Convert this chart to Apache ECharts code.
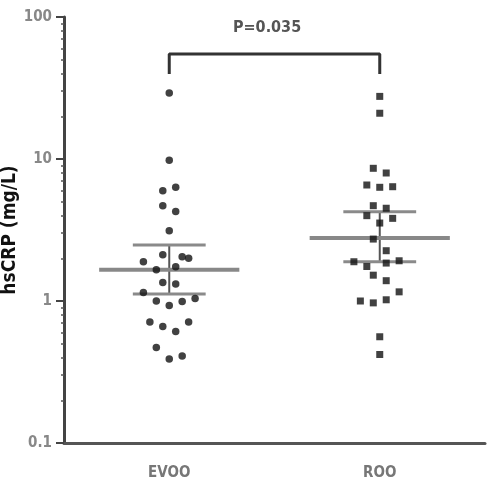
<!DOCTYPE html>
<html>
<head>
<meta charset="utf-8">
<script src="https://cdn.jsdelivr.net/npm/echarts@6/dist/echarts.min.js"></script>
<style>html,body{margin:0;padding:0;background:#fff}#c{width:500px;height:500px}</style>
</head>
<body>
<div id="c"></div>
<script>
// ---- data ----
const categories = ['EVOO', 'ROO'];
const evooValues = [29.2, 9.8, 5.98, 6.32, 4.69, 4.26, 3.13, 2.12, 1.89, 2.05, 2.0, 1.74, 1.66, 1.35, 1.32, 1.15, 1.0, 0.93, 0.99, 1.04, 0.71, 0.66, 0.61, 0.71, 0.47, 0.39, 0.41];
const evooSlots  = [0, 0, -1, 1, -1, 1, 0, -1, -4, 2, 3, 1, -2, -1, 1, -4, -2, 0, 2, 4, -3, -1, 1, 3, -2, 0, 2];
const rooValues  = [27.6, 21.0, 8.6, 7.97, 6.56, 6.32, 6.38, 4.69, 4.50, 3.99, 3.82, 3.54, 2.73, 2.26, 1.89, 1.75, 1.85, 1.92, 1.52, 1.39, 1.16, 1.0, 0.97, 1.02, 0.56, 0.42];
const rooSlots   = [0, 0, -1, 1, -2, 0, 2, -1, 1, -2, 2, 0, -1, 1, -4, -2, 1, 3, -1, 1, 3, -3, -1, 1, 0, 0];
const medians    = [1.66, 2.78];
const q1Values   = [1.12, 1.89];
const q3Values   = [2.48, 4.25];
const yTickLabels = ['0.1', '1', '10', '100'];
const minorTickValues = [0.2,0.3,0.4,0.5,0.6,0.7,0.8,0.9, 2,3,4,5,6,7,8,9, 20,30,40,50,60,70,80,90];
const bracketTop = 54.8;
const bracketFoot = 39.7;
const pText = 'P=0.035';

// ---- build ----
const SLOT = 0.0307;
const FONT = "'Liberation Sans Narrow', 'DejaVu Sans Condensed', 'Arial Narrow', sans-serif";
function pts(vals, slots, g) {
  return vals.map((v, i) => [g + 0.5 + slots[i] * SLOT, v]);
}
const stats = categories.map((c, i) => [i, q1Values[i], medians[i], q3Values[i]]);

const chart = echarts.init(document.getElementById('c'), null, {renderer: 'canvas'});
chart.setOption({
  animation: false,
  backgroundColor: '#fff',
  title: {
    text: pText, left: 233, top: 20, padding: 0,
    textStyle: {fontFamily: FONT, fontSize: 16, fontWeight: 'bold', color: '#555'}
  },
  grid: {left: 64, right: 15, top: 17, bottom: 57, containLabel: false, outerBoundsMode: 'none'},
  xAxis: [
    {
      type: 'category', data: categories, boundaryGap: true,
      axisLine: {lineStyle: {color: '#555', width: 3}},
      axisTick: {alignWithLabel: true, length: 8, lineStyle: {color: '#555', width: 2}},
      axisLabel: {color: '#777', fontFamily: FONT, fontSize: 15, fontWeight: 'bold', margin: 23},
      splitLine: {show: false}
    },
    {
      type: 'value', min: 0, max: 2, show: false
    }
  ],
  yAxis: [
    {
      type: 'log', logBase: 10, min: 0.1, max: 100,
      name: 'hsCRP (mg/L)', nameLocation: 'middle', nameGap: 44, nameMoveOverlap: false,
      nameTextStyle: {fontFamily: FONT, fontSize: 19, fontWeight: 'bold', color: '#111'},
      axisLine: {show: true, lineStyle: {color: '#444', width: 3}},
      axisTick: {show: true, length: 8, lineStyle: {color: '#444', width: 2}},
      axisLabel: {color: '#888', fontFamily: FONT, fontSize: 15, fontWeight: 'bold', margin: 12,
        formatter: (v) => yTickLabels[Math.round(Math.log10(v)) + 1]},
      splitLine: {show: false}
    },
    {
      type: 'log', logBase: 10, min: 0.1, max: 100, position: 'left',
      axisLine: {show: false},
      axisTick: {show: true, length: 3, customValues: minorTickValues, lineStyle: {color: '#555', width: 1.5}},
      axisLabel: {show: false},
      splitLine: {show: false}
    }
  ],
  series: [
    {
      type: 'custom', xAxisIndex: 1, yAxisIndex: 0, z: 1,
      data: stats,
      renderItem: function (params, api) {
        const g = api.value(0);
        const cx = g + 0.5;
        const med = api.value(2), q1 = api.value(1), q3 = api.value(3);
        const mL = api.coord([cx - 0.333, med]), mR = api.coord([cx + 0.333, med]);
        const aL = api.coord([cx - 0.173, q3]), aR = api.coord([cx + 0.173, q3]);
        const bL = api.coord([cx - 0.173, q1]), bR = api.coord([cx + 0.173, q1]);
        const vT = api.coord([cx, q3]), vB = api.coord([cx, q1]);
        return {
          type: 'group',
          children: [
            {type: 'line', shape: {x1: vT[0], y1: vT[1], x2: vB[0], y2: vB[1]}, style: {stroke: '#555', lineWidth: 2}},
            {type: 'line', shape: {x1: aL[0], y1: aL[1], x2: aR[0], y2: aR[1]}, style: {stroke: '#8a8a8a', lineWidth: 3}},
            {type: 'line', shape: {x1: bL[0], y1: bL[1], x2: bR[0], y2: bR[1]}, style: {stroke: '#8a8a8a', lineWidth: 3}},
            {type: 'line', shape: {x1: mL[0], y1: mL[1], x2: mR[0], y2: mR[1]}, style: {stroke: '#888', lineWidth: 4}}
          ]
        };
      }
    },
    {
      type: 'line', xAxisIndex: 1, yAxisIndex: 0, z: 2,
      data: [[0.5, bracketFoot], [0.5, bracketTop], [1.5, bracketTop], [1.5, bracketFoot]],
      symbol: 'none', lineStyle: {color: '#333', width: 3}, silent: true
    },
    {
      name: 'EVOO', type: 'scatter', xAxisIndex: 1, yAxisIndex: 0, z: 3,
      data: pts(evooValues, evooSlots, 0),
      symbol: 'circle', symbolSize: 7.5, itemStyle: {color: '#111'}
    },
    {
      name: 'ROO', type: 'scatter', xAxisIndex: 1, yAxisIndex: 0, z: 3,
      data: pts(rooValues, rooSlots, 1),
      symbol: 'rect', symbolSize: 7, itemStyle: {color: '#111'}
    }
  ]
});
</script>
</body>
</html>
